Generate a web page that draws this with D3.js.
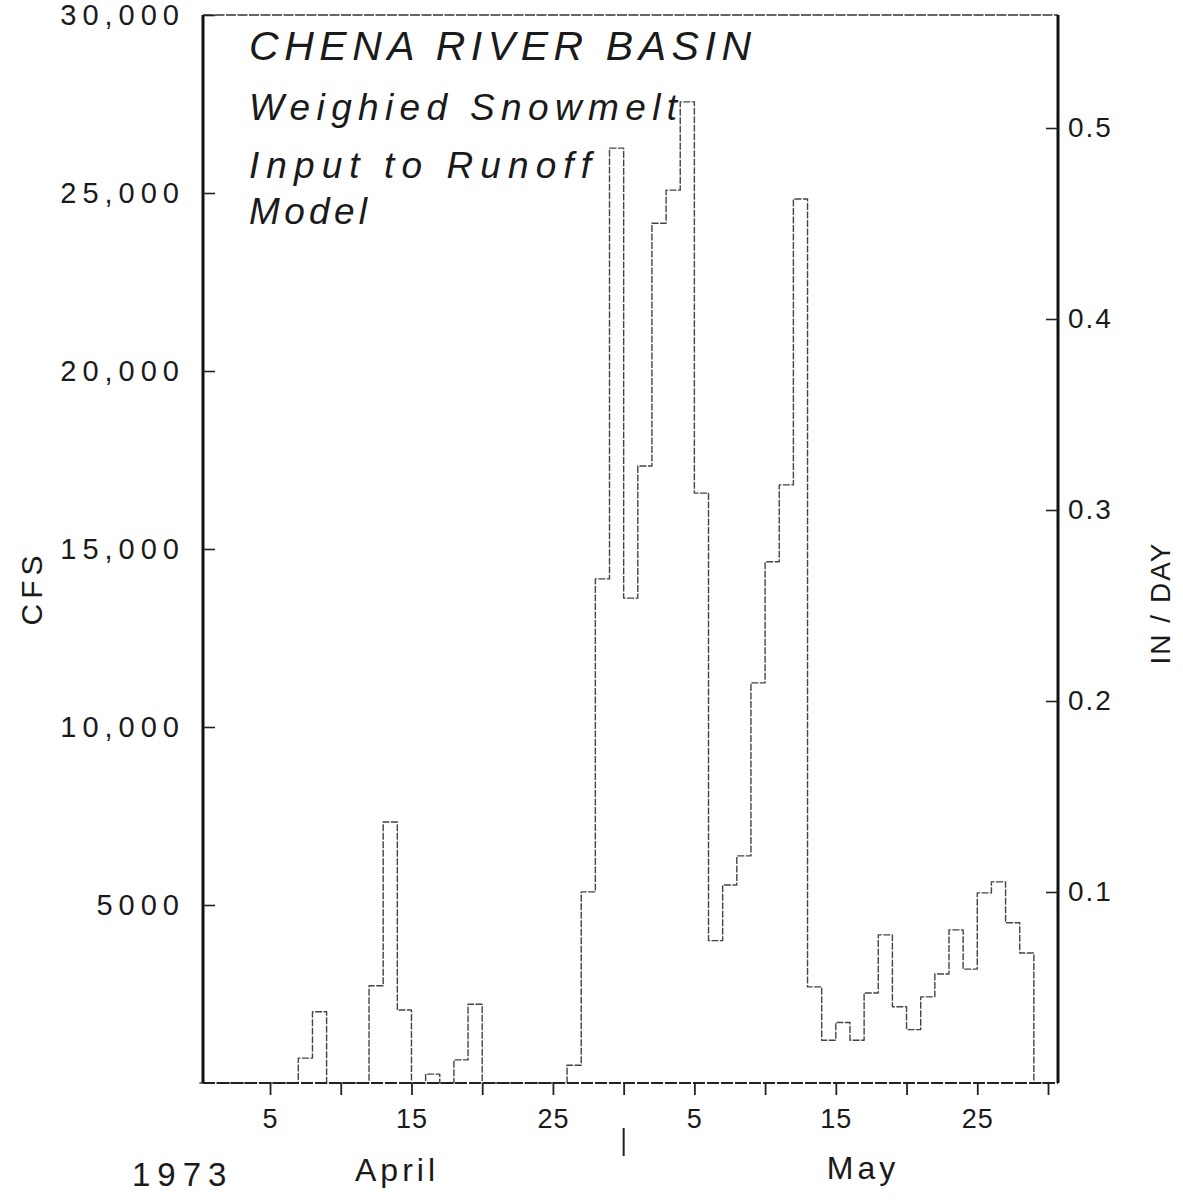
<!DOCTYPE html>
<html><head><meta charset="utf-8">
<script src="https://cdn.jsdelivr.net/npm/d3@7"></script>
<style>
body{margin:0;background:#fff}
svg{display:block}
text{font-family:"Liberation Sans",Arial,sans-serif;fill:#1a1a1a}
</style>
</head><body>
<svg id="chart" width="1183" height="1200"></svg>
<script>
// ---- data (CFS by day; April day numbers and May day numbers) ----
const aprilDays = [8, 9, 13, 14, 15, 17, 19, 20, 27, 28, 29, 30];
const aprilCfs  = [700, 2000, 2730, 7330, 2050, 250, 650, 2210, 500, 5370, 14160, 26260];
const mayDays = [1, 2, 3, 4, 5, 6, 7, 8, 9, 10, 11, 12, 13, 14, 15, 16, 17, 18, 19, 20, 21, 22, 23, 24, 25, 26, 27, 28, 29];
const mayCfs  = [13620, 17330, 24150, 25080, 27560, 16570, 4000, 5560, 6380, 11240, 14640, 16800, 24830,
                 2700, 1200, 1700, 1200, 2530, 4160, 2140, 1500, 2420, 3060, 4300, 3200, 5340, 5650, 4500, 3650];
const aprilLength = 30;
const seasonDays = 60;

// ticks
const xTickDays = [5, 10, 15, 20, 25, 30, 35, 40, 45, 50, 55, 60];
const xTickLabels = {5: "5", 15: "15", 25: "25", 35: "5", 45: "15", 55: "25"};
const yTicks = [5000, 10000, 15000, 20000, 25000, 30000];
const yTickLabels = ["5000", "10,000", "15,000", "20,000", "25,000", "30,000"];
const rTicks = [0.1, 0.2, 0.3, 0.4, 0.5];
const rTickLabels = ["0.1", "0.2", "0.3", "0.4", "0.5"];
const titleLines = ["CHENA  RIVER  BASIN", "Weighied Snowmelt", "Input  to Runoff", "Model"];

// ---- layout ----
const svg = d3.select("#chart");
const frame = {left: 203, right: 1058, top: 15, bottom: 1083};
const x = d3.scaleLinear().domain([0, seasonDays]).range([199.3, 1048]);
const y = d3.scaleLinear().domain([0, 30000]).range([frame.bottom, frame.top]);
const yr = d3.scaleLinear().domain([0, 0.5]).range([frame.bottom, 128]);

// season series
const valueBySeasonDay = new Map();
aprilDays.forEach((d, i) => valueBySeasonDay.set(d, aprilCfs[i]));
mayDays.forEach((d, i) => valueBySeasonDay.set(aprilLength + d, mayCfs[i]));

const pts = [[0, 0]];
for (let s = 1; s <= seasonDays; s++) {
  const v = valueBySeasonDay.get(s) || 0;
  pts.push([s - 1, v], [s, v]);
}
pts.push([seasonDays, 0]);

const line = d3.line().x(d => x(d[0])).y(d => y(d[1]));
svg.append("path")
  .attr("d", line(pts))
  .attr("fill", "none")
  .attr("stroke", "#444")
  .attr("stroke-width", 1.4)
  .attr("stroke-dasharray", "7 1.5")
  .attr("stroke-linejoin", "round");

// ---- frame ----
svg.append("line").attr("x1", frame.left).attr("x2", frame.right).attr("y1", frame.top).attr("y2", frame.top)
  .attr("stroke", "#333").attr("stroke-width", 1.6).attr("stroke-dasharray", "10 1.5");
svg.append("line").attr("x1", frame.left).attr("x2", frame.right).attr("y1", frame.bottom).attr("y2", frame.bottom)
  .attr("stroke", "#222").attr("stroke-width", 2).attr("stroke-dasharray", "12 2");
svg.append("line").attr("x1", frame.left).attr("x2", frame.left).attr("y1", frame.top).attr("y2", frame.bottom)
  .attr("stroke", "#111").attr("stroke-width", 3);
svg.append("line").attr("x1", frame.right).attr("x2", frame.right).attr("y1", frame.top).attr("y2", frame.bottom)
  .attr("stroke", "#111").attr("stroke-width", 3);

// ---- axes ----
const gy = svg.append("g").attr("transform", `translate(${frame.left},0)`)
  .call(d3.axisLeft(y).tickValues(yTicks).tickFormat((d, i) => yTickLabels[i]).tickSize(-12).tickSizeOuter(0).tickPadding(18));
gy.select(".domain").remove();
gy.selectAll(".tick line").attr("stroke", "#222").attr("stroke-width", 1.6);
gy.selectAll(".tick text").style("font-size", "29px").style("letter-spacing", "6px").attr("fill", "#222");

const gr = svg.append("g").attr("transform", `translate(${frame.right},0)`)
  .call(d3.axisRight(yr).tickValues(rTicks).tickFormat((d, i) => rTickLabels[i]).tickSize(-12).tickSizeOuter(0).tickPadding(10));
gr.select(".domain").remove();
gr.selectAll(".tick line").attr("stroke", "#222").attr("stroke-width", 1.6);
gr.selectAll(".tick text").style("font-size", "28px").style("letter-spacing", "2px").attr("fill", "#222");

const gx = svg.append("g").attr("transform", `translate(0,${frame.bottom})`)
  .call(d3.axisBottom(x).tickValues(xTickDays).tickFormat(d => xTickLabels[d] || "").tickSize(12).tickSizeOuter(0).tickPadding(14));
gx.select(".domain").remove();
gx.selectAll(".tick line").attr("stroke", "#222").attr("stroke-width", 1.8);
gx.selectAll(".tick text").style("font-size", "27px").style("letter-spacing", "1px").attr("fill", "#222");

// month divider below axis
svg.append("line").attr("x1", x(aprilLength)).attr("x2", x(aprilLength)).attr("y1", 1128).attr("y2", 1156)
  .attr("stroke", "#222").attr("stroke-width", 2);

// ---- axis titles ----
svg.append("text").attr("transform", "translate(42,588) rotate(-90)").attr("text-anchor", "middle")
  .style("font-size", "30px").style("letter-spacing", "5px").text("CFS");
svg.append("text").attr("transform", "translate(1170,603) rotate(-90)").attr("text-anchor", "middle")
  .style("font-size", "28px").style("letter-spacing", "2px").text("IN / DAY");

svg.append("text").attr("x", 132).attr("y", 1186).style("font-size", "33px").style("letter-spacing", "7px").text("1973");
svg.append("text").attr("x", 397).attr("y", 1181).attr("text-anchor", "middle").style("font-size", "32px").style("letter-spacing", "4px").text("April");
svg.append("text").attr("x", 863).attr("y", 1179).attr("text-anchor", "middle").style("font-size", "32px").style("letter-spacing", "4px").text("May");

// ---- in-plot title ----
const tl = [
  {y: 60, size: 41, w: 502},
  {y: 120, size: 37, w: 428},
  {y: 178, size: 37, w: 342},
  {y: 224, size: 37, w: 118}
];
titleLines.forEach((t, i) => {
  svg.append("text").attr("x", 249).attr("y", tl[i].y)
    .style("font-size", tl[i].size + "px").style("font-style", "italic")
    .attr("textLength", tl[i].w).attr("lengthAdjust", "spacing")
    .text(t);
});
</script>
</body></html>
